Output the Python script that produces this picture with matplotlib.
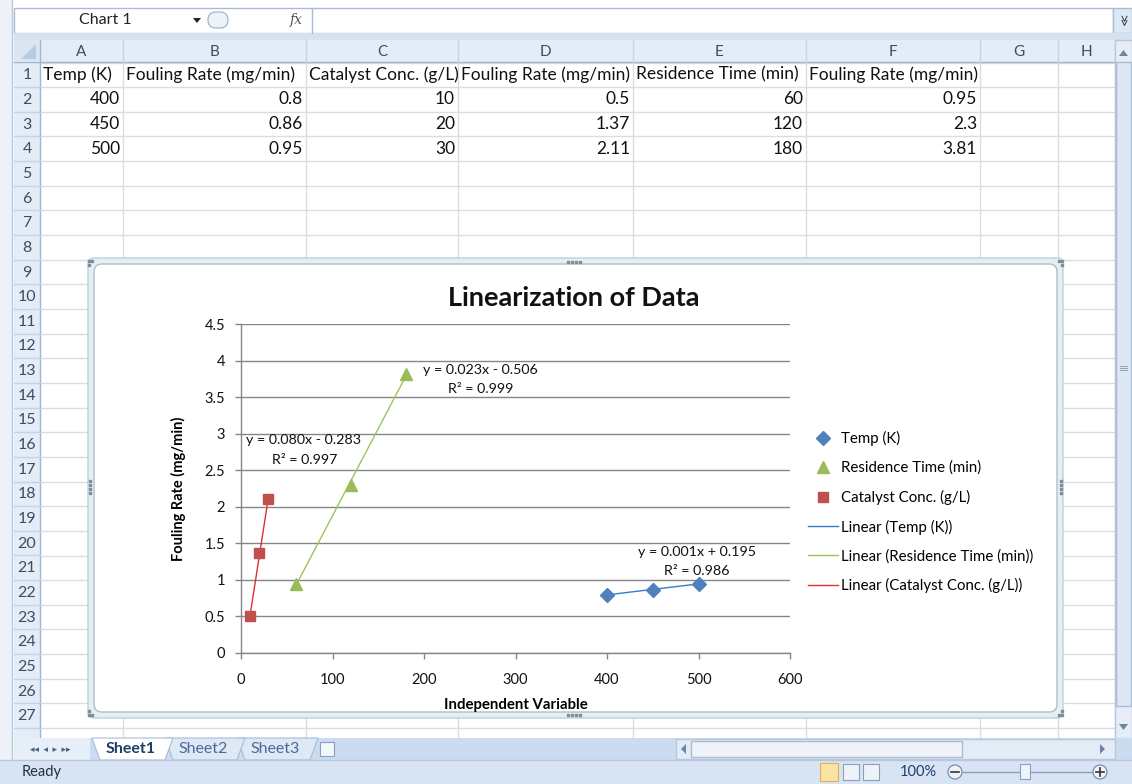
import matplotlib.pyplot as plt
import numpy as np
from matplotlib.patches import Rectangle, FancyBboxPatch, Polygon, Circle
from matplotlib.lines import Line2D

plt.rcParams['font.family'] = ['Lato', 'DejaVu Sans']

# ---- data (from the sheet / chart) ----
headers = ['Temp (K)', 'Fouling Rate (mg/min)', 'Catalyst Conc. (g/L)',
           'Fouling Rate (mg/min)', 'Residence Time (min)', 'Fouling Rate (mg/min)']
temp_k = [400, 450, 500]
rate_temp = [0.8, 0.86, 0.95]
cat_conc = [10, 20, 30]
rate_cat = [0.5, 1.37, 2.11]
res_time = [60, 120, 180]
rate_res = [0.95, 2.3, 3.81]

eq_temp = ['y = 0.001x + 0.195', 'R² = 0.986']
eq_res = ['y = 0.023x - 0.506', 'R² = 0.999']
eq_cat = ['y = 0.080x - 0.283', 'R² = 0.997']

col_letters = ['A', 'B', 'C', 'D', 'E', 'F', 'G', 'H']
sheet_tabs = ['Sheet1', 'Sheet2', 'Sheet3']

W, H = 1132, 784
fig = plt.figure(figsize=(W / 100, H / 100), dpi=100)
fig.patch.set_facecolor('white')

# background axes in pixel coordinates (y down)
bg = fig.add_axes([0, 0, 1, 1])
bg.set_xlim(0, W)
bg.set_ylim(H, 0)
bg.axis('off')

def rect(x0, y0, x1, y1, fc, ec='none', lw=0.8, z=1):
    bg.add_patch(Rectangle((x0, y0), x1 - x0, y1 - y0, fc=fc, ec=ec, lw=lw, zorder=z))

hdr_txt = '#3c4d63'
grid_c = '#d9dee6'
hdr_fc = '#e4ecf7'
hdr_ec = '#9eb6ce'

# left strip and formula bar
rect(0, 0, W, 40, '#ffffff')
rect(0, 0, 12, H, '#eef2f8')
bg.plot([12, 12], [0, H], color='#b8c8dc', lw=1, zorder=2)
rect(14, 8, 1113, 33, '#ffffff', '#a9bcd4', 1, 2)
rect(1113, 8, 1132, 33, '#dde8f5', '#a9bcd4', 1, 2)
bg.text(1122, 20, '≫', rotation=-90, ha='center', va='center', fontsize=8, color='#333333', zorder=3)
rect(14, 33, 1132, 40, '#d5e1f1', z=2)
bg.text(105, 20, 'Chart 1', ha='center', va='center', fontsize=11.5, color='#222222', zorder=3)
bg.add_patch(Polygon([[193, 18], [201, 18], [197, 23]], closed=True, fc='#222222', zorder=3))
bg.add_patch(FancyBboxPatch((208, 12), 20, 16, boxstyle='round,pad=0,rounding_size=8',
                            fc='#eef3fa', ec='#a9bcd4', lw=1, zorder=3))
bg.text(296, 20, 'fx', ha='center', va='center', fontsize=10, style='italic',
        family='DejaVu Serif', color='#555555', zorder=3)
bg.plot([312, 312], [8, 33], color='#a9bcd4', lw=1, zorder=3)

# grid
col_x = [40, 123, 306, 458, 633, 806, 980, 1058, 1115]
row_h = 24.65
row_top = 62.5
rect(14, 40, 1115, 738, '#ffffff', z=1)
for x in col_x[1:]:
    bg.plot([x, x], [62, 738], color=grid_c, lw=1, zorder=1.5)
n_rows = 28
for i in range(n_rows + 1):
    y = row_top + i * row_h
    if y < 738:
        bg.plot([40, 1115], [y, y], color=grid_c, lw=1, zorder=1.5)

# column headers
rect(14, 40, 1115, 62, hdr_fc, z=2)
bg.plot([14, 1115], [62, 62], color=hdr_ec, lw=1, zorder=3)
for i, letter in enumerate(col_letters):
    x0, x1 = col_x[i], col_x[i + 1]
    bg.plot([x1, x1], [40, 62], color='#c5d3e3', lw=1, zorder=3)
    bg.text((x0 + x1) / 2, 51.5, letter, ha='center', va='center', fontsize=11,
            color=hdr_txt, zorder=4)
# select-all corner
rect(14, 40, 40, 62, '#dce6f2', z=3)
bg.add_patch(Polygon([[36, 44], [36, 59], [21, 59]], closed=True, fc='#b9cbe0', zorder=4))

# row headers
rect(14, 62, 40, 738, hdr_fc, z=2)
bg.plot([40, 40], [40, 738], color=hdr_ec, lw=1, zorder=3)
for i in range(n_rows):
    y0 = row_top + i * row_h
    if y0 + row_h / 2 < 738:
        bg.plot([14, 40], [y0 + row_h, y0 + row_h], color='#c5d3e3', lw=1, zorder=3)
        bg.text(27, y0 + row_h / 2 + 0.5, str(i + 1), ha='center', va='center',
                fontsize=11.5, color=hdr_txt, zorder=4)

# cell values
cell_fs = 12.5
for j, h in enumerate(headers):
    bg.text(col_x[j] + 3, row_top + row_h / 2, h, ha='left', va='center',
            fontsize=cell_fs, color='#111111', zorder=3)
columns = [temp_k, rate_temp, cat_conc, rate_cat, res_time, rate_res]
for j, vals in enumerate(columns):
    for i, v in enumerate(vals):
        bg.text(col_x[j + 1] - 3, row_top + (i + 1.5) * row_h, f'{v:g}', ha='right',
                va='center', fontsize=cell_fs, color='#111111', zorder=3)

# vertical scrollbar
rect(1115, 40, 1132, 738, '#e6edf7', '#b8c8dc', 1, 3)
rect(1116, 62, 1131, 706, '#dde7f4', '#a9bcd4', 1, 4)
bg.add_patch(Polygon([[1119, 56], [1128, 56], [1123.5, 50]], closed=True, fc='#6d84a3', zorder=5))
bg.add_patch(Polygon([[1119, 724], [1128, 724], [1123.5, 730]], closed=True, fc='#6d84a3', zorder=5))
for dy in (-2, 0, 2):
    bg.plot([1120, 1127], [368 + dy, 368 + dy], color='#8094b0', lw=0.6, zorder=5)

# sheet tab bar
rect(14, 738, W, 760, '#cbdcf0', z=3)
rect(14, 738, 90, 760, '#e6eef8', z=3)
bg.text(50, 749, '◂◂  ◂  ▸  ▸▸', ha='center', va='center', fontsize=6.5, color='#4a5f7e', zorder=4)
tab_x = [(92, 165), (165, 237), (237, 310)]
for k, (name, (x0, x1)) in enumerate(zip(sheet_tabs, tab_x)):
    fc = '#ffffff' if k == 0 else '#dfe9f6'
    bg.add_patch(Polygon([[x0, 738], [x1 + 8, 738], [x1, 760], [x0 + 8, 760]], closed=True,
                         fc=fc, ec='#a9bcd4', lw=0.8, zorder=4 - k * 0.1))
    bg.text((x0 + x1) / 2 + 2, 749, name, ha='center', va='center', fontsize=11.5,
            fontweight='bold' if k == 0 else 'normal',
            color='#1f3f6b' if k == 0 else '#4a6a96', zorder=5)
rect(320, 742, 334, 756, '#f3f6fb', '#8a9fbd', 0.8, 4)
# horizontal scrollbar
rect(676, 739, 1115, 759, '#e3ebf6', '#b8c8dc', 1, 4)
rect(691, 741, 962, 757, '#eef3fa', '#a9bcd4', 1, 5)
bg.add_patch(Polygon([[686, 744], [686, 754], [681, 749]], closed=True, fc='#6d84a3', zorder=5))
bg.add_patch(Polygon([[1100, 744], [1100, 754], [1105, 749]], closed=True, fc='#6d84a3', zorder=5))

# status bar
rect(0, 760, W, H, '#d8e4f3', z=3)
bg.plot([0, W], [760, 760], color='#b8c8dc', lw=1, zorder=4)
bg.text(22, 772, 'Ready', ha='left', va='center', fontsize=10.5, color='#1f2f45', zorder=5)
rect(820, 763, 838, 781, '#fbe3a4', '#d9b35a', 0.8, 5)
rect(843, 764, 859, 780, '#eef3fa', '#8a9fbd', 0.8, 5)
rect(863, 764, 879, 780, '#eef3fa', '#8a9fbd', 0.8, 5)
bg.text(900, 772, '100%', ha='left', va='center', fontsize=10.5, color='#1f3f6b', zorder=5)
bg.add_patch(Circle((955, 772), 7, fc='#eef3fa', ec='#6d84a3', lw=0.8, zorder=5))
bg.plot([951, 959], [772, 772], color='#333333', lw=1.2, zorder=6)
bg.plot([963, 1092], [772, 772], color='#8a9fbd', lw=1, zorder=5)
rect(1020, 764, 1030, 779, '#eef3fa', '#8a9fbd', 0.8, 6)
bg.add_patch(Circle((1100, 772), 7, fc='#eef3fa', ec='#6d84a3', lw=0.8, zorder=5))
bg.plot([1096, 1104], [772, 772], color='#333333', lw=1.2, zorder=6)
bg.plot([1100, 1100], [768, 776], color='#333333', lw=1.2, zorder=6)

# chart frame
bg.add_patch(FancyBboxPatch((88, 258), 975, 460, boxstyle='round,pad=0,rounding_size=6',
                            fc='#e4eff4', ec='#bcd0da', lw=1, zorder=6))
bg.add_patch(FancyBboxPatch((94, 264), 963, 448, boxstyle='round,pad=0,rounding_size=8',
                            fc='#ffffff', ec='#b0c0c8', lw=1, zorder=6.5))
handle_pts = [(89, 261), (92, 261), (89, 265), (1059, 261), (1062, 261), (1062, 265),
              (89, 711), (89, 715), (92, 715), (1059, 715), (1062, 715), (1062, 711),
              (568, 262), (572, 262), (576, 262), (580, 262),
              (568, 715), (572, 715), (576, 715), (580, 715),
              (90, 481), (90, 485), (90, 489), (90, 493),
              (1061, 481), (1061, 485), (1061, 489), (1061, 493)]
hx, hy = zip(*handle_pts)
bg.scatter(hx, hy, s=1.5, c='#7f8f99', marker='s', zorder=7)

# ---- chart ----
ax = fig.add_axes([241 / W, 1 - 653 / H, 549 / W, 329 / H], zorder=10)
ax.set_facecolor('none')

blue, green, red = '#4f81bd', '#9bbb59', '#c0504d'
series = [
    (temp_k, rate_temp, 'Temp (K)', 'D', blue, '#3a7bc8', 7),
    (res_time, rate_res, 'Residence Time (min)', '^', green, '#9bc65a', 8),
    (cat_conc, rate_cat, 'Catalyst Conc. (g/L)', 's', red, '#e0302c', 7.5),
]
for xs, ys, name, mk, c, lc, ms in series:
    slope, icpt = np.polyfit(xs, ys, 1)
    xx = np.array([min(xs), max(xs)])
    ax.plot(xx, slope * xx + icpt, color=lc, lw=1.0, zorder=3)
for xs, ys, name, mk, c, lc, ms in series:
    ax.plot(xs, ys, linestyle='none', marker=mk, ms=ms, color=c, mec=c, zorder=4)

ax.set_xlim(0, 600)
ax.set_ylim(0, 4.5)
ax.set_xticks(np.arange(0, 601, 100))
ax.set_yticks(np.arange(0, 4.51, 0.5))
ax.set_yticklabels([f'{v:g}' for v in np.arange(0, 4.51, 0.5)])
ax.yaxis.grid(True, color='#868686', lw=1)
ax.set_axisbelow(True)
for s in ['top', 'right']:
    ax.spines[s].set_visible(False)
for s in ['left', 'bottom']:
    ax.spines[s].set_color('#868686')
    ax.spines[s].set_linewidth(1)
ax.tick_params(axis='both', direction='out', length=4.5, width=1, color='#868686',
               labelsize=10.5, labelcolor='#111111')
ax.tick_params(axis='x', pad=10)
ax.tick_params(axis='y', pad=7)

ax.set_ylabel('Fouling Rate (mg/min)', fontsize=10.5, fontweight='bold')
ax.yaxis.set_label_coords(-0.1, 0.5)
ax.set_xlabel('Independent Variable', fontsize=10.8, fontweight='bold')
ax.xaxis.set_label_coords(0.5, -0.137)

fig.text(574 / W, 1 - 298 / H, 'Linearization of Data', ha='center', va='center',
         fontsize=19.5, fontweight='bold', color='#111111', zorder=11)

# trendline labels (data coords)
def px2data(px, py):
    return (px - 241) / 549 * 600, (653 - py) / 329 * 4.5

for (eq, r2), (c1, c2) in [(eq_res, ((480, 370), (481, 389))),
                           (eq_cat, ((304, 440), (305, 460))),
                           (eq_temp, ((697, 552), (697, 571)))]:
    ax.text(*px2data(*c1), eq, ha='center', va='center', fontsize=10.3, color='#111111', zorder=5)
    ax.text(*px2data(*c2), r2, ha='center', va='center', fontsize=10.3, color='#111111', zorder=5)

handles = [Line2D([], [], ls='none', marker=mk, ms=ms, color=c) for _, _, _, mk, c, _, ms in series]
handles += [Line2D([], [], color=lc, lw=1.0) for _, _, _, _, _, lc, _ in series]
labels = [s[2] for s in series] + [f'Linear ({s[2]})' for s in series]
leg = ax.legend(handles, labels, loc='upper left', bbox_to_anchor=(808 / W, 1 - 431 / H),
                bbox_transform=fig.transFigure, frameon=False, fontsize=10.8,
                handlelength=2.0, handletextpad=0.2, labelspacing=0.98,
                borderpad=0, borderaxespad=0)

fig.savefig('out.png', dpi=100)
